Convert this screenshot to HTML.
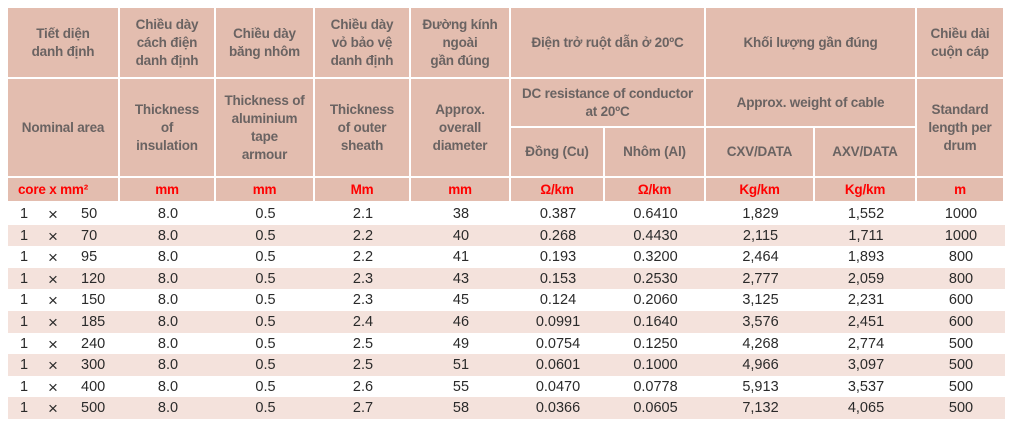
<!DOCTYPE html>
<html><head><meta charset="utf-8"><style>
body{margin:0;width:1011px;height:427px;background:#fff;font-family:"Liberation Sans",sans-serif;position:relative;overflow:hidden}
.c{position:absolute;box-sizing:border-box;display:flex;align-items:center;justify-content:center;text-align:center;background:#e3bdaf;color:#6a6362;font-weight:bold;font-size:13.5px;line-height:18px;border-right:2px solid #fff;border-bottom:2px solid #fff;letter-spacing:-0.2px}
.u{color:#f00;font-size:13.5px}
.r{position:absolute;left:8px;width:997px;height:21.6px}
.d{position:absolute;top:1px;height:21.6px;line-height:21.6px;text-align:center;font-size:14.5px;color:#2a2a2a}
</style></head><body>
<div class="c" style="left:8px;top:8px;width:112px;height:71px">Tiết diện<br>danh định</div>
<div class="c" style="left:120px;top:8px;width:96px;height:71px">Chiều dày<br>cách điện<br>danh định</div>
<div class="c" style="left:216px;top:8px;width:99px;height:71px">Chiều dày<br>băng nhôm</div>
<div class="c" style="left:315px;top:8px;width:96px;height:71px">Chiều dày<br>vỏ bảo vệ<br>danh định</div>
<div class="c" style="left:411px;top:8px;width:100px;height:71px">Đường kính<br>ngoài<br>gần đúng</div>
<div class="c" style="left:511px;top:8px;width:195px;height:71px">Điện trở ruột dẫn ở 20ºC</div>
<div class="c" style="left:706px;top:8px;width:211px;height:71px">Khối lượng gần đúng</div>
<div class="c" style="left:917px;top:8px;width:88px;height:71px">Chiều dài<br>cuộn cáp</div>

<div class="c" style="left:8px;top:79px;width:112px;height:99px">Nominal area</div>
<div class="c" style="left:120px;top:79px;width:96px;height:99px">Thickness<br>of<br>insulation</div>
<div class="c" style="left:216px;top:79px;width:99px;height:99px">Thickness of<br>aluminium<br>tape<br>armour</div>
<div class="c" style="left:315px;top:79px;width:96px;height:99px">Thickness<br>of outer<br>sheath</div>
<div class="c" style="left:411px;top:79px;width:100px;height:99px">Approx.<br>overall<br>diameter</div>
<div class="c" style="left:511px;top:79px;width:195px;height:49px">DC resistance of conductor<br>at 20ºC</div>
<div class="c" style="left:706px;top:79px;width:211px;height:49px">Approx. weight of cable</div>
<div class="c" style="left:511px;top:128px;width:94px;height:50px">Đồng (Cu)</div>
<div class="c" style="left:605px;top:128px;width:101px;height:50px">Nhôm (Al)</div>
<div class="c" style="left:706px;top:128px;width:109px;height:50px">CXV/DATA</div>
<div class="c" style="left:815px;top:128px;width:102px;height:50px">AXV/DATA</div>
<div class="c" style="left:917px;top:79px;width:88px;height:99px">Standard<br>length per<br>drum</div>

<div class="c u" style="left:8px;top:178px;width:112px;height:25px;justify-content:flex-start;padding-left:10px">core x mm²</div>
<div class="c u" style="left:120px;top:178px;width:96px;height:25px">mm</div>
<div class="c u" style="left:216px;top:178px;width:99px;height:25px">mm</div>
<div class="c u" style="left:315px;top:178px;width:96px;height:25px">Mm</div>
<div class="c u" style="left:411px;top:178px;width:100px;height:25px">mm</div>
<div class="c u" style="left:511px;top:178px;width:94px;height:25px">Ω/km</div>
<div class="c u" style="left:605px;top:178px;width:101px;height:25px">Ω/km</div>
<div class="c u" style="left:706px;top:178px;width:109px;height:25px">Kg/km</div>
<div class="c u" style="left:815px;top:178px;width:102px;height:25px">Kg/km</div>
<div class="c u" style="left:917px;top:178px;width:88px;height:25px">m</div>

<div id="rows"></div>
<script>
var data=[["50","8.0","0.5","2.1","38","0.387","0.6410","1,829","1,552","1000"],
["70","8.0","0.5","2.2","40","0.268","0.4430","2,115","1,711","1000"],
["95","8.0","0.5","2.2","41","0.193","0.3200","2,464","1,893","800"],
["120","8.0","0.5","2.3","43","0.153","0.2530","2,777","2,059","800"],
["150","8.0","0.5","2.3","45","0.124","0.2060","3,125","2,231","600"],
["185","8.0","0.5","2.4","46","0.0991","0.1640","3,576","2,451","600"],
["240","8.0","0.5","2.5","49","0.0754","0.1250","4,268","2,774","500"],
["300","8.0","0.5","2.5","51","0.0601","0.1000","4,966","3,097","500"],
["400","8.0","0.5","2.6","55","0.0470","0.0778","5,913","3,537","500"],
["500","8.0","0.5","2.7","58","0.0366","0.0605","7,132","4,065","500"]];
var cols=[[112,96],[208,99],[307,96],[403,100],[503,94],[597,101],[698,109],[807,102],[909,88]];
var h="";
data.forEach(function(r,i){
 h+='<div class="r" style="top:'+(203+i*21.6)+'px;background:'+(i%2?'#f4e2dc':'#fff')+'">';
 h+='<div class="d" style="left:10px;width:12px">1</div><div class="d" style="left:37px;width:16px;font-size:17px">×</div><div class="d" style="left:73px;width:30px;text-align:left">'+r[0]+'</div>';
 for(var k=0;k<9;k++)h+='<div class="d" style="left:'+cols[k][0]+'px;width:'+cols[k][1]+'px">'+r[k+1]+'</div>';
 h+='</div>';
});
document.getElementById("rows").innerHTML=h;
</script>
</body></html>
